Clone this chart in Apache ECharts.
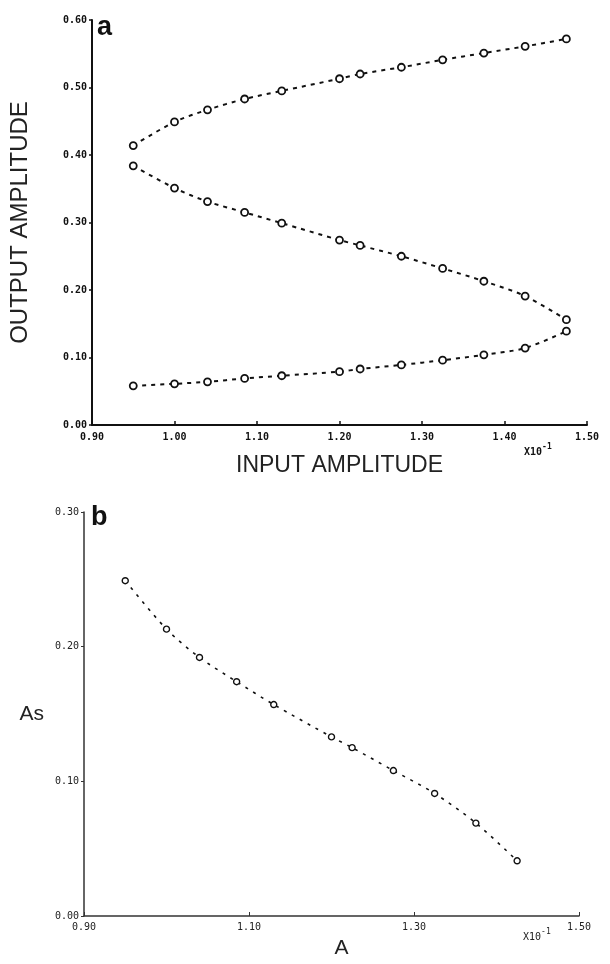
<!DOCTYPE html>
<html>
<head>
<meta charset="utf-8">
<script src="https://cdn.jsdelivr.net/npm/echarts@6/dist/echarts.min.js"></script>
<style>
html,body{margin:0;padding:0;background:#fff;}
#chart{width:610px;height:964px;}
</style>
</head>
<body>
<div id="chart"></div>
<script>
// ---- Data (panel a) ----
var inputAmpA = [0.95, 1.00, 1.04, 1.085, 1.13, 1.20, 1.225, 1.275, 1.325, 1.375, 1.425, 1.475];
var upperBranch = [0.414, 0.449, 0.467, 0.483, 0.495, 0.513, 0.520, 0.530, 0.541, 0.551, 0.561, 0.572];
var middleBranch = [0.384, 0.351, 0.331, 0.315, 0.299, 0.274, 0.266, 0.250, 0.232, 0.213, 0.191, 0.156];
var lowerBranch = [0.058, 0.061, 0.064, 0.069, 0.073, 0.079, 0.083, 0.089, 0.096, 0.104, 0.114, 0.139];
// ---- Data (panel b) ----
var inputAmpB = [0.95, 1.00, 1.04, 1.085, 1.13, 1.20, 1.225, 1.275, 1.325, 1.375, 1.425];
var asValues = [0.249, 0.213, 0.192, 0.174, 0.157, 0.133, 0.125, 0.108, 0.091, 0.069, 0.041];
// ---- Axis tick settings ----
var xTicksA = {min: 0.90, max: 1.50, interval: 0.10};
var yTicksA = {min: 0.00, max: 0.60, interval: 0.10};
var xTicksB = {min: 0.90, max: 1.50, interval: 0.20};
var yTicksB = {min: 0.00, max: 0.30, interval: 0.10};
var axisTitles = {xa: 'INPUT AMPLITUDE', ya: 'OUTPUT AMPLITUDE', xb: 'A', yb: 'As'};

function zip(xs, ys) { return xs.map(function (x, i) { return [x, ys[i]]; }); }
function fmt(v) { return (Math.round(v * 100) / 100).toFixed(2); }

var chart = echarts.init(document.getElementById('chart'), null, {renderer: 'canvas'});

var labelA = {fontFamily: 'DejaVu Sans Mono', fontWeight: 'bold', fontSize: 10, color: '#111'};
var labelB = {fontFamily: 'DejaVu Sans Mono', fontWeight: 'normal', fontSize: 10, color: '#222'};
var titleFont = {fontFamily: 'Liberation Sans', fontWeight: 'normal', color: '#222'};

function lineSeries(xi, yi, data, w, dash, sym, bw) {
  return {
    type: 'line', xAxisIndex: xi, yAxisIndex: yi, data: data,
    smooth: 0.3, symbol: 'circle', symbolSize: sym, showSymbol: true,
    lineStyle: {color: '#111', width: w, type: dash},
    itemStyle: {color: '#fff', borderColor: '#111', borderWidth: bw},
    animation: false, z: 3
  };
}

var option = {
  backgroundColor: '#fff',
  animation: false,
  grid: [
    {left: 91, top: 20, width: 496, height: 405},
    {left: 84, top: 512, width: 495, height: 404}
  ],
  xAxis: [
    {
      type: 'value', gridIndex: 0, min: xTicksA.min, max: xTicksA.max, interval: xTicksA.interval,
      name: axisTitles.xa, nameLocation: 'middle', nameGap: 29,
      nameTextStyle: Object.assign({fontSize: 23, verticalAlign: 'top'}, titleFont),
      axisLine: {show: true, onZero: false, lineStyle: {color: '#111', width: 2}},
      axisTick: {show: true, inside: true, length: 4, lineStyle: {color: '#111', width: 1.5}},
      axisLabel: Object.assign({margin: 7, formatter: fmt}, labelA),
      splitLine: {show: false}
    },
    {
      type: 'value', gridIndex: 1, min: xTicksB.min, max: xTicksB.max, interval: xTicksB.interval,
      name: axisTitles.xb, nameLocation: 'middle', nameGap: 22,
      nameTextStyle: Object.assign({fontSize: 21, verticalAlign: 'top', padding: [0, 0, 0, 20]}, titleFont),
      axisLine: {show: true, onZero: false, lineStyle: {color: '#333', width: 1.5}},
      axisTick: {show: true, inside: true, length: 4, lineStyle: {color: '#333', width: 1}},
      axisLabel: Object.assign({margin: 6, formatter: fmt}, labelB),
      splitLine: {show: false}
    }
  ],
  yAxis: [
    {
      type: 'value', gridIndex: 0, min: yTicksA.min, max: yTicksA.max, interval: yTicksA.interval,
      name: axisTitles.ya, nameLocation: 'middle', nameGap: 60, nameRotate: 90,
      nameTextStyle: Object.assign({fontSize: 24}, titleFont),
      axisLine: {show: true, onZero: false, lineStyle: {color: '#111', width: 2}},
      axisTick: {show: true, inside: false, length: 3, lineStyle: {color: '#111', width: 1.5}},
      axisLabel: Object.assign({margin: 5, verticalAlign: 'middle', padding: [0, 0, 4, 0], formatter: fmt}, labelA),
      splitLine: {show: false}
    },
    {
      type: 'value', gridIndex: 1, min: yTicksB.min, max: yTicksB.max, interval: yTicksB.interval,
      name: axisTitles.yb, nameLocation: 'middle', nameGap: 40, nameRotate: 0,
      nameTextStyle: Object.assign({fontSize: 21, align: 'right'}, titleFont),
      axisLine: {show: true, onZero: false, lineStyle: {color: '#333', width: 1.5}},
      axisTick: {show: true, inside: false, length: 3, lineStyle: {color: '#333', width: 1}},
      axisLabel: Object.assign({margin: 5, verticalAlign: 'middle', padding: [0, 0, 6, 0], formatter: fmt}, labelB),
      splitLine: {show: false}
    }
  ],
  series: [
    lineSeries(0, 0, zip(inputAmpA, upperBranch), 2, [4, 5], 7, 1.8),
    lineSeries(0, 0, zip(inputAmpA, middleBranch), 2, [4, 5], 7, 1.8),
    lineSeries(0, 0, zip(inputAmpA, lowerBranch), 2, [4, 5], 7, 1.8),
    lineSeries(1, 1, zip(inputAmpB, asValues), 1.6, [3, 6], 6, 1.4)
  ],
  graphic: [
    {type: 'text', left: 97, top: 14, style: {text: 'a', font: 'bold 27px "Liberation Sans"', fill: '#111'}},
    {type: 'text', left: 91, top: 504, style: {text: 'b', font: 'bold 27px "Liberation Sans"', fill: '#111'}},
    {type: 'text', left: 524, top: 443, style: {
      text: '{m|X10}{s|-1}', rich: {
        m: {fontFamily: 'DejaVu Sans Mono', fontSize: 10, fill: '#111', fontWeight: 'bold', verticalAlign: 'bottom', padding: [4, 0, 0, 0]},
        s: {fontFamily: 'DejaVu Sans Mono', fontSize: 8, fill: '#111', fontWeight: 'bold', verticalAlign: 'top'}
      }}},
    {type: 'text', left: 523, top: 928, style: {
      text: '{m|X10}{s|-1}', rich: {
        m: {fontFamily: 'DejaVu Sans Mono', fontSize: 10, fill: '#222', verticalAlign: 'bottom', padding: [4, 0, 0, 0]},
        s: {fontFamily: 'DejaVu Sans Mono', fontSize: 8, fill: '#222', verticalAlign: 'top'}
      }}}
  ]
};
chart.setOption(option);
</script>
</body>
</html>
